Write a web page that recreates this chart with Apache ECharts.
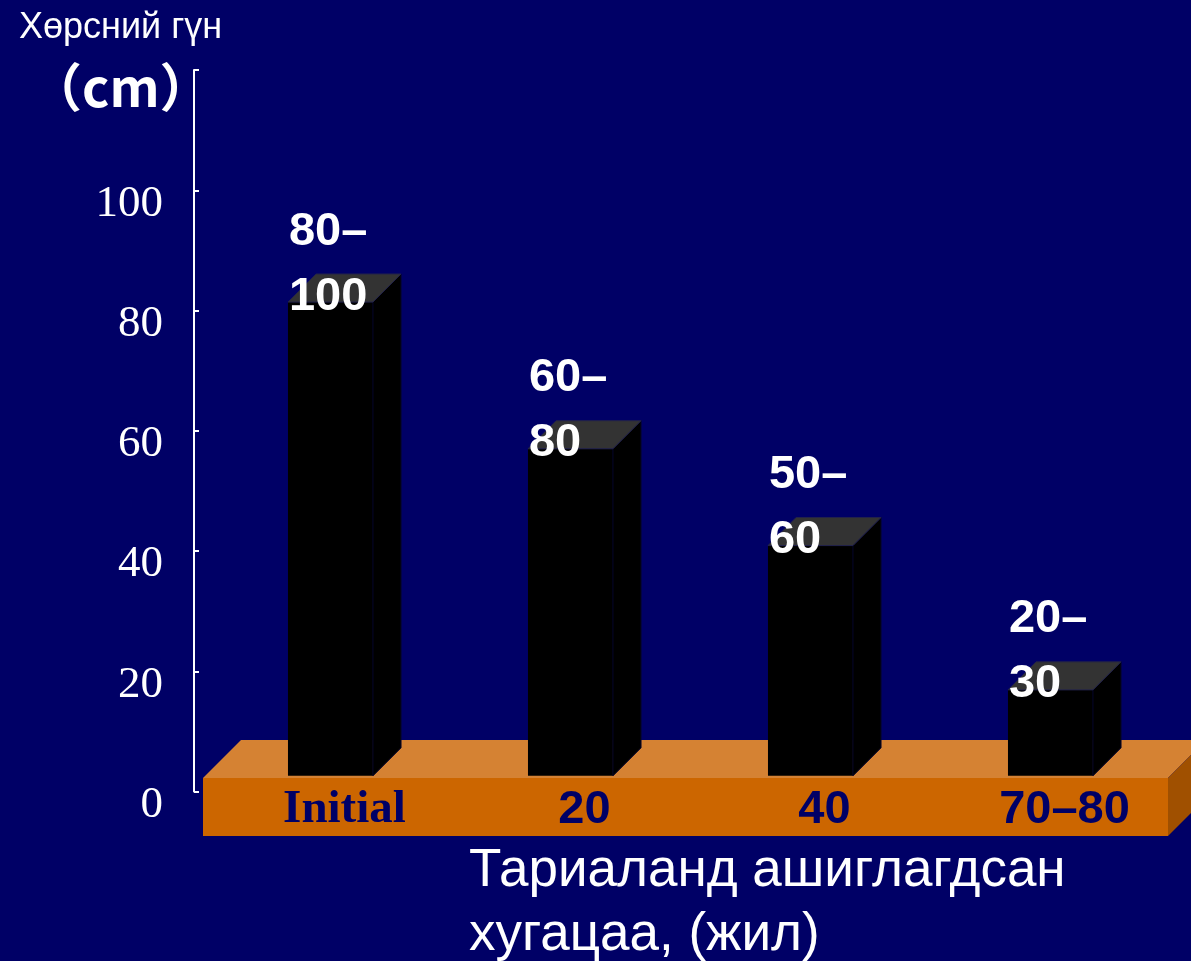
<!DOCTYPE html>
<html>
<head>
<meta charset="utf-8">
<script src="https://cdn.jsdelivr.net/npm/echarts@6/dist/echarts.min.js"></script>
<style>
html,body{margin:0;padding:0;background:#000066;}
#c{width:1191px;height:961px;}
</style>
</head>
<body>
<div id="c"></div>
<script>
const categories = ['Initial', '20', '40', '70–80'];
const depthValues = [81.4, 57.0, 40.9, 16.9];
const rangeLabels = ['80–\n100', '60–\n80', '50–\n60', '20–\n30'];
const yMin = 0, yMax = 120, yInterval = 20;
const barBase = 2.6;

const chart = echarts.init(document.getElementById('c'), null, {renderer: 'canvas'});

function renderPlatform(params, api) {
  const cs = params.coordSys;
  const x0 = cs.x - 21.5;
  const x1 = cs.x + cs.width - 16.5;
  const yt = cs.y + cs.height - 13.5;
  const yb = cs.y + cs.height + 44.5;
  const d = 38;
  return {
    type: 'group',
    children: [
      {type: 'polygon', shape: {points: [[x0, yt], [x0 + d, yt - d], [x1 + d, yt - d], [x1, yt]]}, style: {fill: '#D58233'}},
      {type: 'polygon', shape: {points: [[x1, yt], [x1 + d, yt - d], [x1 + d, yb - d], [x1, yb]]}, style: {fill: '#A05000'}},
      {type: 'rect', shape: {x: x0, y: yt, width: x1 - x0, height: yb - yt}, style: {fill: '#CC6600'}}
    ]
  };
}

function renderBar(params, api) {
  const idx = api.value(0);
  const top = api.coord([idx, api.value(1)]);
  const base = api.coord([idx, barBase]);
  const bw = api.size([1, 0])[0];
  const fw = bw * 0.354;
  const d = bw * 0.117;
  const x0 = top[0] - (fw + d) / 2;
  const yT = top[1];
  const yB = base[1];
  return {
    type: 'group',
    children: [
      {type: 'rect', shape: {x: x0, y: yT, width: fw, height: yB - yT}, style: {fill: '#000000'}},
      {type: 'polygon', shape: {points: [[x0 + fw, yT], [x0 + fw + d, yT - d], [x0 + fw + d, yB - d], [x0 + fw, yB]]}, style: {fill: '#000000', stroke: '#05052a', lineWidth: 1}},
      {type: 'polygon', shape: {points: [[x0, yT], [x0 + d, yT - d], [x0 + fw + d, yT - d], [x0 + fw, yT]]}, style: {fill: '#333333', stroke: '#22224a', lineWidth: 1}},
      {type: 'text', style: {
        text: rangeLabels[params.dataIndex], x: x0 + 1, y: yT + 27,
        fill: '#ffffff', fontFamily: 'Liberation Sans', fontWeight: 'bold', fontSize: 47,
        lineHeight: 65, align: 'left', verticalAlign: 'bottom'
      }}
    ]
  };
}

const option = {
  backgroundColor: '#000066',
  animation: false,
  title: [
    {text: 'Хөрсний гүн', left: 14, top: 3, textStyle: {color: '#ffffff', fontFamily: 'Liberation Sans', fontWeight: 'normal', fontSize: 36, lineHeight: 40}},
    {text: '（cm）', left: 25, top: 52, textStyle: {color: '#ffffff', fontFamily: 'Noto Sans CJK SC', fontWeight: 'bold', fontSize: 52, lineHeight: 60}},
    {text: 'Тариаланд ашиглагдсан\nхугацаа, (жил)', left: 464, top: 834, textStyle: {color: '#ffffff', fontFamily: 'Liberation Sans', fontWeight: 'normal', fontSize: 53, lineHeight: 64}}
  ],
  grid: {left: 224.5, right: 6.5, top: 70, bottom: 169.5},
  xAxis: {
    type: 'category',
    data: categories,
    z: 10,
    axisLine: {show: false},
    axisTick: {show: false},
    axisLabel: {
      margin: -5,
      formatter: function (v, i) { return i === 0 ? '{s|' + v + '}' : '{n|' + v + '}'; },
      rich: {
        s: {fontFamily: 'Liberation Serif', fontWeight: 'bold', fontSize: 47, color: '#000066'},
        n: {fontFamily: 'Liberation Sans', fontWeight: 'bold', fontSize: 47, color: '#000066'}
      }
    }
  },
  yAxis: {
    type: 'value',
    min: yMin, max: yMax, interval: yInterval,
    offset: 30.5,
    axisLine: {show: true, lineStyle: {color: '#ffffff', width: 2}},
    axisTick: {show: true, inside: true, length: 5, lineStyle: {color: '#ffffff', width: 2}},
    splitLine: {show: false},
    axisLabel: {
      margin: 31,
      color: '#ffffff',
      fontFamily: 'Liberation Serif',
      fontSize: 45,
      verticalAlign: 'top',
      lineHeight: 27,
      formatter: function (v) { return v === yMax ? '' : String(v); }
    }
  },
  series: [
    {type: 'custom', z: 1, clip: false, silent: true, renderItem: renderPlatform, data: [[0, 0]]},
    {type: 'custom', z: 2, clip: false, renderItem: renderBar,
     data: depthValues.map(function (v, i) { return [i, v]; })}
  ]
};
chart.setOption(option);
</script>
</body>
</html>
